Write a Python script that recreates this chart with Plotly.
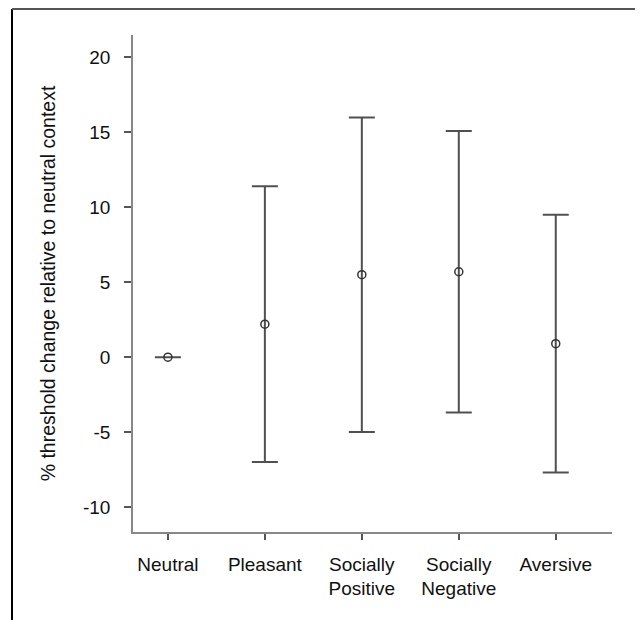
import plotly.graph_objects as go

categories = ["Neutral", "Pleasant", "Socially<br>Positive", "Socially<br>Negative", "Aversive"]
means = [0.0, 2.2, 5.5, 5.7, 0.9]
upper = [0.0, 11.4, 16.0, 15.1, 9.5]
lower = [0.0, -7.0, -5.0, -3.7, -7.7]
y_ticks = [-10, -5, 0, 5, 10, 15, 20]

err_plus = [u - m for u, m in zip(upper, means)]
err_minus = [m - l for m, l in zip(means, lower)]
xs = list(range(len(categories)))

fig = go.Figure()
fig.add_trace(go.Scatter(
    x=xs, y=means, mode="markers",
    marker=dict(symbol="circle-open", size=8, color="#333333", line=dict(width=1.5, color="#333333")),
    error_y=dict(type="data", symmetric=False, array=err_plus, arrayminus=err_minus,
                 color="#505050", thickness=2, width=13),
    showlegend=False,
))

font_family = "Liberation Sans, Arial, sans-serif"
ML, MR, MT, MB = 125, 39, 27, 96
W, H = 643, 620
pw, ph = W - ML - MR, H - MT - MB

fig.update_layout(
    width=W, height=H,
    margin=dict(l=ML, r=MR, t=MT, b=MB),
    paper_bgcolor="white", plot_bgcolor="white",
    font=dict(family=font_family, size=19, color="#111111"),
    xaxis=dict(
        range=[-0.36, 4.58], tickmode="array", tickvals=xs, ticktext=categories,
        showgrid=False, zeroline=False, showline=True, linecolor="#888888", linewidth=1.5,
        ticks="outside", ticklen=6, tickwidth=1.5, tickcolor="#555555",
        tickfont=dict(size=19), ticklabelstandoff=8,
    ),
    yaxis=dict(
        range=[-11.67, 21.5], tickmode="array", tickvals=y_ticks,
        ticktext=[str(v) for v in y_ticks],
        showgrid=False, zeroline=False, showline=True, linecolor="#888888", linewidth=1.5,
        ticks="outside", ticklen=7, tickwidth=1.5, tickcolor="#555555",
        tickfont=dict(size=19), ticklabelstandoff=10,
        title=dict(text="% threshold change relative to neutral context", font=dict(size=19.5), standoff=22),
    ),
)

# frame around the figure (left, top, right)
L = (4 - ML) / pw
R = (632 - ML) / pw
T = 1 + (MT - 1) / ph
B = -(MB + 2) / ph
fig.add_shape(type="line", xref="paper", yref="paper", x0=L, x1=L, y0=B, y1=T, line=dict(color="black", width=2))
fig.add_shape(type="line", xref="paper", yref="paper", x0=R, x1=R, y0=B, y1=T, line=dict(color="black", width=2))
fig.add_shape(type="line", xref="paper", yref="paper", x0=L, x1=R, y0=T, y1=T, line=dict(color="#555555", width=2))

fig.write_html("out.html")
